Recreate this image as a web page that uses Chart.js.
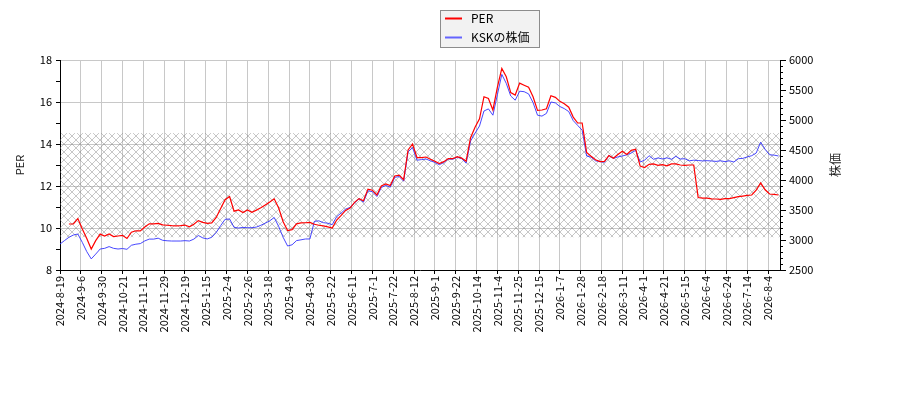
<!DOCTYPE html>
<html>
<head>
<meta charset="utf-8">
<script src="https://cdn.jsdelivr.net/npm/chart.js@4.4.1/dist/chart.umd.min.js"></script>
<style>
html,body{margin:0;padding:0;background:#fff;}
#wrap{width:900px;height:400px;position:relative;}
</style>
</head>
<body>
<div id="wrap"><canvas id="c" width="900" height="400"></canvas></div>
<script>
// ---- data ----
const tickLabels = ['2024-8-19','2024-9-6','2024-9-30','2024-10-21','2024-11-11','2024-11-29','2024-12-19',
  '2025-1-15','2025-2-4','2025-2-26','2025-3-18','2025-4-9','2025-4-30','2025-5-22','2025-6-11','2025-7-1',
  '2025-7-22','2025-8-12','2025-9-1','2025-9-22','2025-10-14','2025-11-4','2025-11-25','2025-12-15',
  '2026-1-7','2026-1-28','2026-2-18','2026-3-11','2026-4-1','2026-4-21','2026-5-15','2026-6-4','2026-6-24',
  '2026-7-14','2026-8-4'];
const daysPerTick = 14;     // trading days between labelled ticks
const daysPerValue = 3;    // trading days between sampled values
const totalDays = 484;

const perValues = [
  null,null,10.19,10.2,10.45,9.95,9.5,9.0,9.4,9.71,
  9.62,9.72,9.59,9.62,9.65,9.50,9.80,9.87,9.86,10.05,
  10.2,10.2,10.22,10.15,10.13,10.11,10.10,10.11,10.14,10.06,
  10.18,10.35,10.27,10.22,10.24,10.5,10.93,11.35,11.5,10.8,
  10.86,10.74,10.86,10.75,10.85,10.96,11.1,11.24,11.39,10.95,
  10.3,9.88,9.92,10.2,10.24,10.25,10.27,10.18,10.13,10.10,
  10.05,10.0,10.38,10.6,10.84,10.95,11.22,11.4,11.3,11.85,
  11.8,11.57,12.0,12.1,12.02,12.48,12.52,12.3,13.72,14.0,
  13.35,13.35,13.38,13.27,13.18,13.07,13.16,13.31,13.30,13.40,
  13.33,13.18,14.3,14.8,15.2,16.25,16.17,15.62,16.7,17.6,
  17.2,16.45,16.33,16.9,16.8,16.7,16.25,15.6,15.62,15.68,
  16.3,16.22,16.03,15.92,15.75,15.28,15.0,15.0,13.6,13.42,
  13.25,13.16,13.17,13.45,13.32,13.5,13.65,13.5,13.7,13.75,
  12.95,12.88,13.03,13.05,12.98,13.02,12.96,13.05,13.05,13.0,
  12.98,13.0,13.0,11.45,11.42,11.42,11.39,11.38,11.36,11.4,
  11.4,11.45,11.49,11.52,11.55,11.57,11.8,12.15,11.82,11.62,
  11.6,11.57
];
const priceValues = [
  2933,2990,3045,3083,3100,2960,2806,2685,2765,2850,
  2861,2890,2861,2850,2858,2845,2912,2930,2940,2985,
  3015,3015,3030,2995,2987,2983,2983,2983,2989,2983,
  3015,3075,3035,3018,3045,3125,3240,3345,3350,3210,
  3200,3210,3205,3205,3215,3245,3280,3320,3375,3225,
  3045,2900,2920,2990,3003,3017,3017,3310,3320,3289,
  3280,3255,3390,3450,3515,3544,3615,3690,3630,3820,
  3805,3725,3875,3910,3880,4045,4057,3980,4470,4540,
  4330,4340,4350,4320,4293,4255,4290,4350,4345,4380,
  4355,4280,4650,4780,4900,5150,5185,5080,5420,5760,
  5610,5400,5330,5480,5472,5435,5290,5080,5065,5110,
  5300,5285,5225,5190,5140,4990,4910,4830,4400,4380,
  4320,4306,4295,4410,4360,4385,4400,4420,4450,4495,
  4300,4330,4405,4345,4368,4350,4370,4345,4395,4350,
  4355,4320,4330,4325,4318,4322,4317,4310,4320,4306,
  4320,4300,4355,4360,4385,4405,4450,4630,4510,4420,
  4415,4400
];
const perBand = [9.56, 14.52];
const seriesNames = ['PER', 'KSKの株価'];
const axisTitles = ['PER', '株価'];
const perRange = [8, 18];
const priceRange = [2500, 6000];

// ---- styling ----
const FONT = '"Noto Sans CJK JP", "DejaVu Sans", sans-serif';
const GRID = '#c8c8c8';

const perData = perValues.map((v, i) => ({x: i * daysPerValue, y: v}));
const priceData = priceValues.map((v, i) => ({x: i * daysPerValue, y: v}));

const bandPlugin = {
  id: 'band',
  beforeDatasetsDraw(chart) {
    const {ctx, chartArea: a, scales} = chart;
    const top = scales.y.getPixelForValue(perBand[1]);
    const bot = scales.y.getPixelForValue(perBand[0]);
    const s = 8;
    const pc = document.createElement('canvas');
    pc.width = s; pc.height = s;
    const p = pc.getContext('2d');
    p.strokeStyle = 'rgba(120,120,120,0.6)';
    p.lineWidth = 0.7;
    p.beginPath();
    p.moveTo(0, 0); p.lineTo(s, s);
    p.moveTo(s, 0); p.lineTo(0, s);
    p.stroke();
    const pat = ctx.createPattern(pc, 'repeat');
    ctx.save();
    ctx.fillStyle = pat;
    ctx.fillRect(a.left, top, a.right - a.left, bot - top);
    ctx.restore();
  }
};

const extrasPlugin = {
  id: 'extras',
  afterDraw(chart) {
    const {ctx, chartArea: a, scales} = chart;
    ctx.save();
    // minor ticks on right axis
    ctx.strokeStyle = '#000';
    ctx.lineWidth = 1;
    ctx.beginPath();
    for (let v = priceRange[0]; v <= priceRange[1]; v += 100) {
      if (v % 500 === 0) continue;
      const y = Math.round(scales.y1.getPixelForValue(v)) + 0.5;
      ctx.moveTo(a.right, y); ctx.lineTo(a.right + 3, y);
    }
    ctx.stroke();
    // axis titles
    ctx.fillStyle = '#222';
    ctx.font = '11px ' + FONT;
    ctx.textAlign = 'center';
    ctx.textBaseline = 'middle';
    const cy = (a.top + a.bottom) / 2;
    ctx.save(); ctx.translate(20, cy); ctx.rotate(-Math.PI / 2); ctx.fillText(axisTitles[0], 0, 0); ctx.restore();
    ctx.save(); ctx.translate(835, cy); ctx.rotate(-Math.PI / 2); ctx.font = '12px ' + FONT; ctx.fillText(axisTitles[1], 0, 0); ctx.restore();
    // legend
    ctx.fillStyle = '#f2f2f2';
    ctx.strokeStyle = '#8c8c8c';
    ctx.lineWidth = 1;
    ctx.fillRect(440.5, 10.5, 99, 37);
    ctx.strokeRect(440.5, 10.5, 99, 37);
    const ys = [18.5, 37.5];
    chart.data.datasets.forEach((d, i) => {
      ctx.strokeStyle = d.legendColor;
      ctx.lineWidth = 2;
      ctx.beginPath(); ctx.moveTo(445, ys[i]); ctx.lineTo(462, ys[i]); ctx.stroke();
      ctx.fillStyle = '#000';
      ctx.font = '12px ' + FONT;
      ctx.textAlign = 'left';
      ctx.textBaseline = 'middle';
      ctx.fillText(d.label, 471, ys[i]);
    });
    ctx.restore();
  }
};

new Chart(document.getElementById('c'), {
  type: 'line',
  data: {
    datasets: [
      {label: seriesNames[0], data: perData, yAxisID: 'y', borderColor: '#ff0000', legendColor: '#ff0000',
       borderWidth: 1.2, pointRadius: 0, tension: 0, spanGaps: false},
      {label: seriesNames[1], data: priceData, yAxisID: 'y1', borderColor: 'rgb(50,50,255)', legendColor: 'rgb(100,100,255)',
       borderWidth: 0.9, pointRadius: 0, tension: 0}
    ]
  },
  options: {
    responsive: false,
    animation: false,
    layout: {padding: {top: 60, left: 0, right: 0, bottom: 0}},
    plugins: {legend: {display: false}, tooltip: {enabled: false}},
    scales: {
      x: {
        type: 'linear', min: 0, max: totalDays,
        afterBuildTicks(s) { s.ticks = tickLabels.map((t, i) => ({value: i * daysPerTick})); },
        afterFit(s) { s.height = 130; },
        ticks: {
          autoSkip: false, maxRotation: 90, minRotation: 90, padding: 2, color: '#000',
          font: {family: FONT, size: 11},
          callback(v, i) { return tickLabels[i]; }
        },
        grid: {color: GRID, tickColor: '#000', tickLength: 4, lineWidth: 1},
        border: {display: true, color: '#000', width: 1}
      },
      y: {
        position: 'left', min: perRange[0], max: perRange[1],
        afterFit(s) { s.width = 60; },
        ticks: {
          stepSize: 1, padding: 4, color: '#000', font: {family: FONT, size: 11},
          callback(v) { return v % 2 === 0 ? String(v) : ''; }
        },
        grid: {
          color: (c) => (c.tick && c.tick.value % 2 === 0) ? GRID : 'rgba(0,0,0,0)',
          tickColor: '#000', tickLength: 4
        },
        border: {display: true, color: '#000', width: 1}
      },
      y1: {
        position: 'right', min: priceRange[0], max: priceRange[1],
        afterFit(s) { s.width = 120; },
        ticks: {stepSize: 500, padding: 3, color: '#000', font: {family: FONT, size: 11},
                callback(v) { return String(v); }},
        grid: {drawOnChartArea: false, tickColor: '#000', tickLength: 6},
        border: {display: true, color: '#000', width: 1}
      }
    }
  },
  plugins: [bandPlugin, extrasPlugin]
});
</script>
</body>
</html>
